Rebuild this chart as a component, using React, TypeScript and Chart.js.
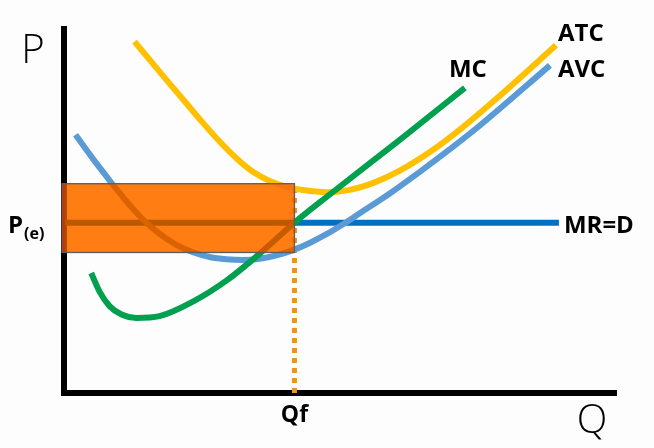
import React, { useEffect, useRef } from 'react';
import { Chart, registerables } from 'chart.js';

Chart.register(...registerables);

// Quantity (x) and price (y) in abstract units, 0..100 on each axis
const Q_MAX = 100;
const P_MAX = 100;
const QF = 41.75;         // loss-minimising output
const PRICE = 46.8;       // market price P(e) = MR = D
const ATC_AT_QF = 57.5;   // top of loss rectangle
const AVC_AT_QF = 38.6;   // bottom of loss rectangle

const mcQ = [4.93, 6.44, 8.25, 10.43, 13.09, 17.32, 23.35, 29.41, 35.45, 41.79, 48.14, 60.83, 72.62];
const mcP = [32.98, 27.85, 23.87, 21.54, 20.63, 21.12, 25.10, 30.86, 38.27, 46.84, 54.53, 69.55, 83.81];

const atcQ = [12.78, 16.10, 19.13, 22.16, 25.17, 28.20, 31.22, 34.23, 37.26, 40.29, 43.30, 47.60, 51.77, 56.30, 60.83, 66.27, 71.71, 78.96, 89.12];
const atcP = [96.52, 90.48, 84.99, 79.59, 74.21, 69.08, 64.50, 60.77, 58.24, 56.65, 55.75, 55.17, 55.80, 57.86, 61.08, 66.19, 72.36, 81.69, 95.52];

const avcQ = [2.09, 5.22, 8.25, 11.28, 14.29, 17.32, 20.35, 23.35, 26.38, 29.41, 32.42, 35.45, 38.48, 41.49, 44.51, 47.54, 50.55, 53.58, 59.02, 64.45, 69.90, 75.34, 88.03];
const avcP = [70.92, 64.39, 58.44, 52.70, 47.68, 43.70, 40.71, 38.66, 37.37, 36.74, 36.54, 36.90, 37.80, 39.26, 41.23, 43.62, 46.36, 49.38, 54.81, 60.74, 66.99, 73.50, 90.01];

const mrQ = [0, 89.66];
const mrP = [PRICE, PRICE];

const qfLineQ = [QF, QF];
const qfLineP = [0, ATC_AT_QF];

const zip = (xs: number[], ys: number[]) => xs.map((x, i) => ({ x, y: ys[i] }));

const LABEL_FONT = '"Open Sans", "DejaVu Sans", sans-serif';

const lossRectPlugin = {
  id: 'lossRect',
  afterDatasetsDraw(chart: any) {
    const { ctx, scales } = chart;
    const xs = scales.x;
    const ys = scales.y;
    const x0 = xs.getPixelForValue(0) - 2;
    const x1 = xs.getPixelForValue(QF);
    const yT = ys.getPixelForValue(ATC_AT_QF);
    const yB = ys.getPixelForValue(AVC_AT_QF);
    const w = x1 - x0;
    const h = yB - yT;
    ctx.save();
    ctx.globalCompositeOperation = 'multiply';
    ctx.fillStyle = 'rgb(255,128,0)';
    ctx.fillRect(x0, yT, w, h);
    ctx.globalCompositeOperation = 'color';
    ctx.fillStyle = 'rgb(210,70,0)';
    ctx.fillRect(x0, yT, w, h);
    ctx.globalCompositeOperation = 'source-over';
    ctx.fillStyle = 'rgba(255,128,0,0.64)';
    ctx.fillRect(x0, yT, w, h);
    ctx.fillStyle = 'rgba(220,40,0,0.85)';
    ctx.fillRect(x0, yT, 3, h);
    ctx.strokeStyle = '#5c5c5c';
    ctx.lineWidth = 1.3;
    ctx.strokeRect(x0, yT, w, h);
    ctx.restore();
  },
};

const textPlugin = {
  id: 'econLabels',
  afterDraw(chart: any) {
    const { ctx, scales, chartArea } = chart;
    const xs = scales.x;
    const ys = scales.y;
    ctx.save();
    ctx.fillStyle = '#000';
    ctx.textBaseline = 'alphabetic';

    // Axis names
    ctx.textAlign = 'center';
    ctx.font = `300 40px ${LABEL_FONT}`;
    ctx.fillText('P', chartArea.left - 31, chartArea.top + 34);
    ctx.fillText('Q', chartArea.right - 24, chartArea.bottom + 40);

    // Qf tick
    ctx.font = `bold 23px ${LABEL_FONT}`;
    ctx.fillText('Qf', xs.getPixelForValue(QF), chartArea.bottom + 29);

    // P(e)
    const py = ys.getPixelForValue(PRICE);
    ctx.textAlign = 'left';
    ctx.font = `bold 24px ${LABEL_FONT}`;
    ctx.fillText('P', 8, py + 10);
    ctx.font = `bold 16px ${LABEL_FONT}`;
    ctx.fillText('(e)', 24, py + 16);

    // Curve labels
    ctx.font = `bold 24px ${LABEL_FONT}`;
    ctx.textAlign = 'center';
    ctx.fillText('MC', xs.getPixelForValue(mcQ[mcQ.length - 1]) + 3, ys.getPixelForValue(mcP[mcP.length - 1]) - 11);
    ctx.textAlign = 'left';
    ctx.fillText('ATC', xs.getPixelForValue(atcQ[atcQ.length - 1]) + 2, ys.getPixelForValue(atcP[atcP.length - 1]) - 4);
    ctx.fillText('AVC', xs.getPixelForValue(avcQ[avcQ.length - 1]) + 8, ys.getPixelForValue(avcP[avcP.length - 1]) + 12);
    ctx.fillText('MR=D', xs.getPixelForValue(mrQ[1]) + 5, py + 10);
    ctx.restore();
  },
};

export default function App() {
  const canvasRef = useRef<HTMLCanvasElement | null>(null);

  useEffect(() => {
    const canvas = canvasRef.current;
    if (!canvas) return;
    const lineDefaults = {
      showLine: true,
      pointRadius: 0,
      borderWidth: 6,
      cubicInterpolationMode: 'monotone' as const,
      fill: false,
      borderCapStyle: 'butt' as const,
    };
    const chart = new Chart(canvas, {
      type: 'scatter',
      data: {
        datasets: [
          { ...lineDefaults, label: 'MC', data: zip(mcQ, mcP), borderColor: '#00A04F' },
          { ...lineDefaults, label: 'ATC', data: zip(atcQ, atcP), borderColor: '#FFC000' },
          { ...lineDefaults, label: 'AVC', data: zip(avcQ, avcP), borderColor: '#5B9BD5' },
          { ...lineDefaults, label: 'MR=D', data: zip(mrQ, mrP), borderColor: '#0070C0', cubicInterpolationMode: 'default', tension: 0 },
          {
            ...lineDefaults,
            label: 'Qf',
            data: zip(qfLineQ, qfLineP),
            borderColor: '#F0921E',
            borderWidth: 5,
            borderDash: [5, 5],
            cubicInterpolationMode: 'default',
            tension: 0,
          },
        ],
      },
      options: {
        responsive: false,
        animation: false,
        events: [],
        layout: { padding: { left: 64, right: 38, top: 29, bottom: 55 } },
        plugins: { legend: { display: false }, tooltip: { enabled: false } },
        scales: {
          x: {
            type: 'linear',
            min: 0,
            max: Q_MAX,
            ticks: { display: false },
            grid: { color: 'rgba(0,0,0,0)', drawTicks: false },
            border: { display: true, color: '#000', width: 6 },
          },
          y: {
            type: 'linear',
            min: 0,
            max: P_MAX,
            ticks: { display: false },
            grid: { color: 'rgba(0,0,0,0)', drawTicks: false },
            border: { display: true, color: '#000', width: 6 },
          },
        },
      },
      plugins: [lossRectPlugin, textPlugin],
    });
    return () => chart.destroy();
  }, []);

  return (
    <div style={{ position: 'fixed', left: 0, top: 0, width: 654, height: 448, background: '#fdfdfd' }}>
      <canvas ref={canvasRef} width={654} height={448} style={{ display: 'block' }} />
    </div>
  );
}
